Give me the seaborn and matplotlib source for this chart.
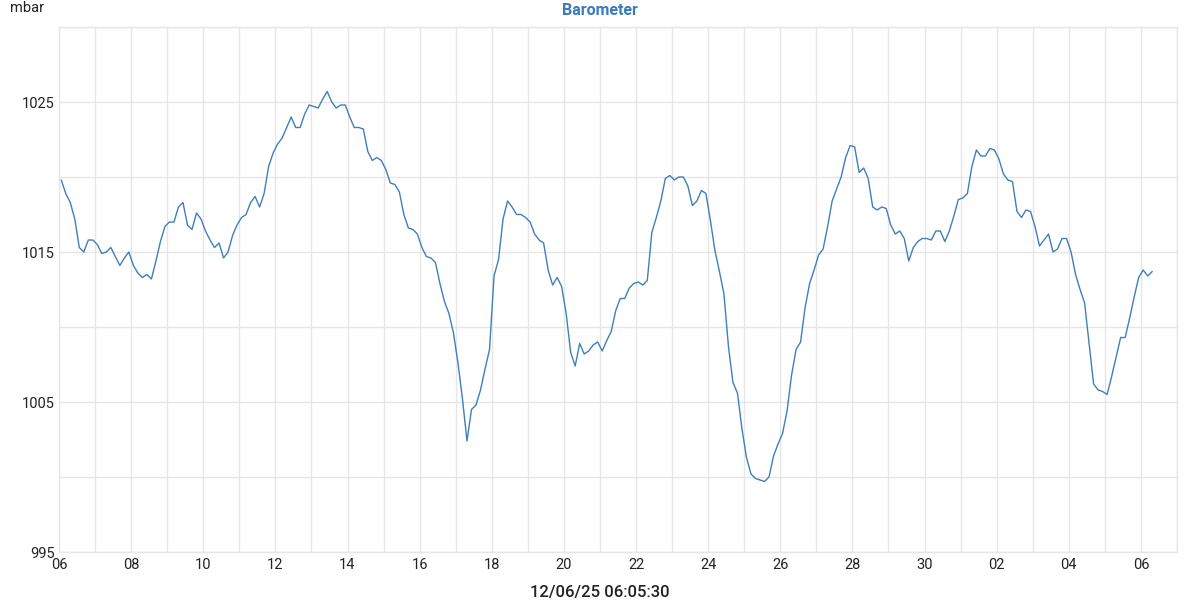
#!/usr/bin/env python3
# -*- coding: utf-8 -*-

import seaborn as sns
import pandas as pd
import matplotlib
matplotlib.use("Agg")
import matplotlib.pyplot as plt
import matplotlib.dates as mdates
from matplotlib.ticker import MultipleLocator

# barometer readings, 3-hourly, one row per day (first sample 06 Nov 01:30)
start_time = "2025-11-06 01:30"
step = "3h"
pressure = [
    1019.8, 1018.9, 1018.3, 1017.2, 1015.3, 1015.0, 1015.8, 1015.8,  # 06
    1015.5, 1014.9, 1015.0, 1015.3, 1014.7, 1014.1, 1014.6, 1015.0,  # 07
    1014.1, 1013.6, 1013.3, 1013.5, 1013.2, 1014.4, 1015.7, 1016.7,  # 08
    1017.0, 1017.0, 1018.0, 1018.3, 1016.8, 1016.5, 1017.6, 1017.2,  # 09
    1016.4, 1015.8, 1015.3, 1015.6, 1014.6, 1015.0, 1016.1, 1016.8,  # 10
    1017.3, 1017.5, 1018.3, 1018.7, 1018.0, 1018.9, 1020.7, 1021.6,  # 11
    1022.2, 1022.6, 1023.3, 1024.0, 1023.3, 1023.3, 1024.2, 1024.8,  # 12
    1024.7, 1024.6, 1025.2, 1025.7, 1025.0, 1024.6, 1024.8, 1024.8,  # 13
    1024.0, 1023.3, 1023.3, 1023.2, 1021.7, 1021.1, 1021.3, 1021.1,  # 14
    1020.5, 1019.6, 1019.5, 1019.0, 1017.5, 1016.6, 1016.5, 1016.2,  # 15
    1015.3, 1014.7, 1014.6, 1014.3, 1012.9, 1011.7, 1010.9, 1009.6,  # 16
    1007.6, 1005.2, 1002.4, 1004.5, 1004.8, 1005.8, 1007.2, 1008.5,  # 17
    1013.4, 1014.5, 1017.2, 1018.4, 1018.0, 1017.5, 1017.5, 1017.3,  # 18
    1017.0, 1016.2, 1015.8, 1015.6, 1013.8, 1012.8, 1013.3, 1012.7,  # 19
    1010.9, 1008.3, 1007.4, 1008.9, 1008.2, 1008.4, 1008.8, 1009.0,  # 20
    1008.4, 1009.1, 1009.7, 1011.1, 1011.9, 1011.9, 1012.6, 1012.9,  # 21
    1013.0, 1012.8, 1013.1, 1016.3, 1017.3, 1018.4, 1019.9, 1020.1,  # 22
    1019.8, 1020.0, 1020.0, 1019.4, 1018.1, 1018.4, 1019.1, 1018.9,  # 23
    1017.1, 1015.1, 1013.7, 1012.2, 1008.7, 1006.3, 1005.6, 1003.2,  # 24
    1001.3, 1000.2, 999.9, 999.8, 999.7, 1000.0, 1001.4, 1002.2,     # 25
    1002.9, 1004.4, 1006.8, 1008.5, 1009.0, 1011.3, 1012.9, 1013.8,  # 26
    1014.8, 1015.2, 1016.7, 1018.4, 1019.2, 1020.0, 1021.3, 1022.1,  # 27
    1022.0, 1020.3, 1020.6, 1019.9, 1018.0, 1017.8, 1018.0, 1017.9,  # 28
    1016.8, 1016.2, 1016.4, 1015.9, 1014.4, 1015.3, 1015.7, 1015.9,  # 29
    1015.9, 1015.8, 1016.4, 1016.4, 1015.7, 1016.4, 1017.4, 1018.5,  # 30
    1018.6, 1018.9, 1020.7, 1021.8, 1021.4, 1021.4, 1021.9, 1021.8,  # 01
    1021.2, 1020.2, 1019.8, 1019.7, 1017.7, 1017.3, 1017.8, 1017.7,  # 02
    1016.7, 1015.4, 1015.8, 1016.2, 1015.0, 1015.2, 1015.9, 1015.9,  # 03
    1015.0, 1013.5, 1012.5, 1011.6, 1008.9, 1006.2, 1005.8, 1005.7,  # 04
    1005.5, 1006.7, 1008.0, 1009.3, 1009.3, 1010.6, 1012.0, 1013.3,  # 05
    1013.8, 1013.4, 1013.7,                                          # 06
]
x_range = ("2025-11-06", "2025-12-07")
y_range = (995, 1030)
y_major = [995, 1005, 1015, 1025]
title = "Barometer"
unit = "mbar"
x_title = "12/06/25 06:05:30"

sns.set_theme(style="whitegrid")
plt.rcParams['font.family'] = ['Roboto', 'DejaVu Sans']

df = pd.DataFrame({
    'time': pd.date_range(start_time, periods=len(pressure), freq=step),
    'pressure': pressure,
})

fig = plt.figure(figsize=(12, 6), dpi=100)
ax = fig.add_axes([59/1200, 48/600, 1118/1200, 525/600])
sns.lineplot(data=df, x='time', y='pressure', ax=ax, color='#3f7fbb', linewidth=1.0)

grid_c = '#e6e6e6'
ax.set_xlim(pd.Timestamp(x_range[0]), pd.Timestamp(x_range[1]))
ax.set_ylim(*y_range)
ax.set_yticks(y_major)
ax.yaxis.set_minor_locator(MultipleLocator(5))
ax.xaxis.set_major_locator(mdates.DayLocator(interval=2))
ax.xaxis.set_minor_locator(mdates.DayLocator())
ax.xaxis.set_major_formatter(mdates.DateFormatter('%d'))
ax.grid(True, which='both', color=grid_c, linewidth=1.0)
ax.set_axisbelow(True)
for s in ax.spines.values():
    s.set_color(grid_c)
    s.set_linewidth(1.0)
ax.tick_params(axis='both', which='both', length=0, labelsize=10.5, colors='#222222')
ax.tick_params(axis='y', pad=3)
ax.tick_params(axis='x', pad=4)

ax.set_xlabel('')
ax.set_ylabel('')
fig.text(0.5, 0.013, x_title, ha='center', va='center', fontsize=12,
         fontweight='medium', color='#222222')
fig.text(0.5, 0.983, title, ha='center', va='center', fontsize=11.5,
         fontweight='bold', color='#3a7bbb')
fig.text(0.008, 0.986, unit, ha='left', va='center', fontsize=10.5, color='#222222')

fig.savefig('out.png', dpi=100)
